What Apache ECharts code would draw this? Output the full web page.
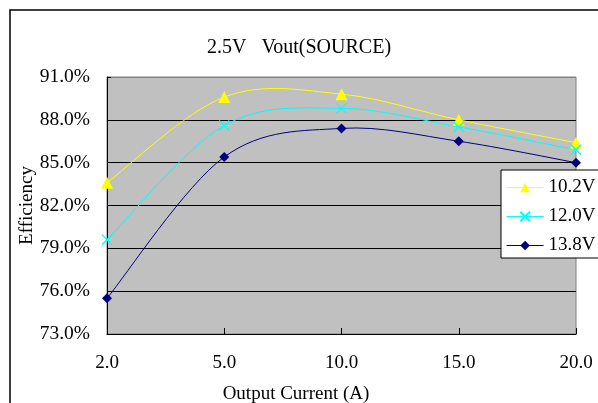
<!DOCTYPE html>
<html>
<head>
<meta charset="utf-8">
<script src="https://cdn.jsdelivr.net/npm/echarts@6/dist/echarts.min.js"></script>
<style>html,body{margin:0;padding:0;background:#fff;}#c{width:598px;height:403px;}</style>
</head>
<body>
<div id="c"></div>
<script>
const categories = ['2.0', '5.0', '10.0', '15.0', '20.0'];
const v102 = [83.6, 89.6, 89.8, 88.0, 86.4];
const v120 = [79.6, 87.6, 88.8, 87.5, 85.9];
const v138 = [75.5, 85.4, 87.4, 86.5, 85.0];
const yTicks = [73, 91, 3];
const seriesNames = ['10.2V', '12.0V', '13.8V'];
const colors = ['#FFFF00', '#00FFFF', '#000080'];

const font = 'Liberation Serif, Times New Roman, serif';
const FS = 19;

// Excel-style smoothed curve (Catmull-Rom through the data points, placed by the library's scales)
function curveSeries(vals, color) {
  return {
    type: 'custom', z: 1, silent: true, data: [[0, vals[0]]],
    renderItem: function (params, api) {
      const pts = vals.map((v, i) => api.coord([i, v]));
      const children = [];
      for (let i = 0; i < pts.length - 1; i++) {
        const p0 = pts[Math.max(i - 1, 0)], p1 = pts[i], p2 = pts[i + 1], p3 = pts[Math.min(i + 2, pts.length - 1)];
        children.push({
          type: 'bezierCurve',
          shape: {
            x1: p1[0], y1: p1[1], x2: p2[0], y2: p2[1],
            cpx1: p1[0] + (p2[0] - p0[0]) / 6, cpy1: p1[1] + (p2[1] - p0[1]) / 6,
            cpx2: p2[0] - (p3[0] - p1[0]) / 6, cpy2: p2[1] - (p3[1] - p1[1]) / 6
          },
          style: { stroke: color, lineWidth: 1, fill: null }
        });
      }
      return { type: 'group', children: children };
    }
  };
}

const symbols = ['triangle', 'path://M0,0L10,10M10,0L0,10', 'diamond'];
const sizes = [12, 10, 10];
const allVals = [v102, v120, v138];

const series = [];
allVals.forEach((vals, k) => series.push(curveSeries(vals, colors[k])));
allVals.forEach((vals, k) => series.push({
  name: seriesNames[k], type: 'line', data: vals, z: 3,
  symbol: symbols[k], symbolSize: sizes[k],
  lineStyle: { color: colors[k], width: 1, opacity: 0 },
  itemStyle: k === 1 ? { color: colors[k], borderColor: colors[k], borderWidth: 1.3 } : { color: colors[k] }
}));

const chart = echarts.init(document.getElementById('c'));
chart.setOption({
  animation: false,
  backgroundColor: '#fff',
  title: {
    text: '2.5V   Vout(SOURCE)', left: 'center', top: 33,
    textStyle: { fontFamily: font, fontSize: 20, fontWeight: 'normal', color: '#000' }
  },
  graphic: [{
    type: 'rect', shape: { x: 10, y: 10, width: 620, height: 420 },
    style: { fill: 'none', stroke: '#000', lineWidth: 1.5 }, z: 100
  }],
  grid: {
    left: 107, top: 77, right: 22, bottom: 69, show: true, outerBoundsMode: 'none', containLabel: false,
    backgroundColor: '#C0C0C0', borderColor: '#808080', borderWidth: 1
  },
  legend: {
    orient: 'vertical', left: 501, top: 170,
    backgroundColor: '#fff', borderColor: '#000', borderWidth: 1,
    padding: [8, 20, 3, 5], itemGap: 10, itemWidth: 37, itemHeight: 12,
    textStyle: { fontFamily: font, fontSize: FS, color: '#000' },
    data: seriesNames.map((n, k) => ({ name: n, lineStyle: { opacity: 1, color: colors[k], width: 1.2 } }))
  },
  xAxis: {
    type: 'category', data: categories, boundaryGap: false,
    name: 'Output Current (A)', nameLocation: 'middle', nameGap: 51, nameMoveOverlap: false,
    nameTextStyle: { fontFamily: font, fontSize: FS, color: '#000', padding: [0, 91, 0, 0] },
    axisLine: { lineStyle: { color: '#000', width: 1 } },
    axisTick: { show: true, inside: true, length: 6, lineStyle: { color: '#000' } },
    axisLabel: { fontFamily: font, fontSize: FS, color: '#000', margin: 20 },
    splitLine: { show: false }
  },
  yAxis: {
    type: 'value', min: yTicks[0], max: yTicks[1], interval: yTicks[2],
    name: 'Efficiency', nameLocation: 'middle', nameGap: 70, nameMoveOverlap: false,
    nameTextStyle: { fontFamily: font, fontSize: FS, color: '#000' },
    axisLine: { show: true, lineStyle: { color: '#000', width: 1 } },
    axisTick: { show: true, inside: true, length: 4, lineStyle: { color: '#000' } },
    axisLabel: { fontFamily: font, fontSize: 19.5, color: '#000', margin: 17,
      formatter: v => v.toFixed(1) + '%' },
    splitLine: { show: true, lineStyle: { color: ['#000', '#000', '#000', '#000', '#000', '#000', '#808080'], width: 1 } }
  },
  series: series
});
</script>
</body>
</html>
